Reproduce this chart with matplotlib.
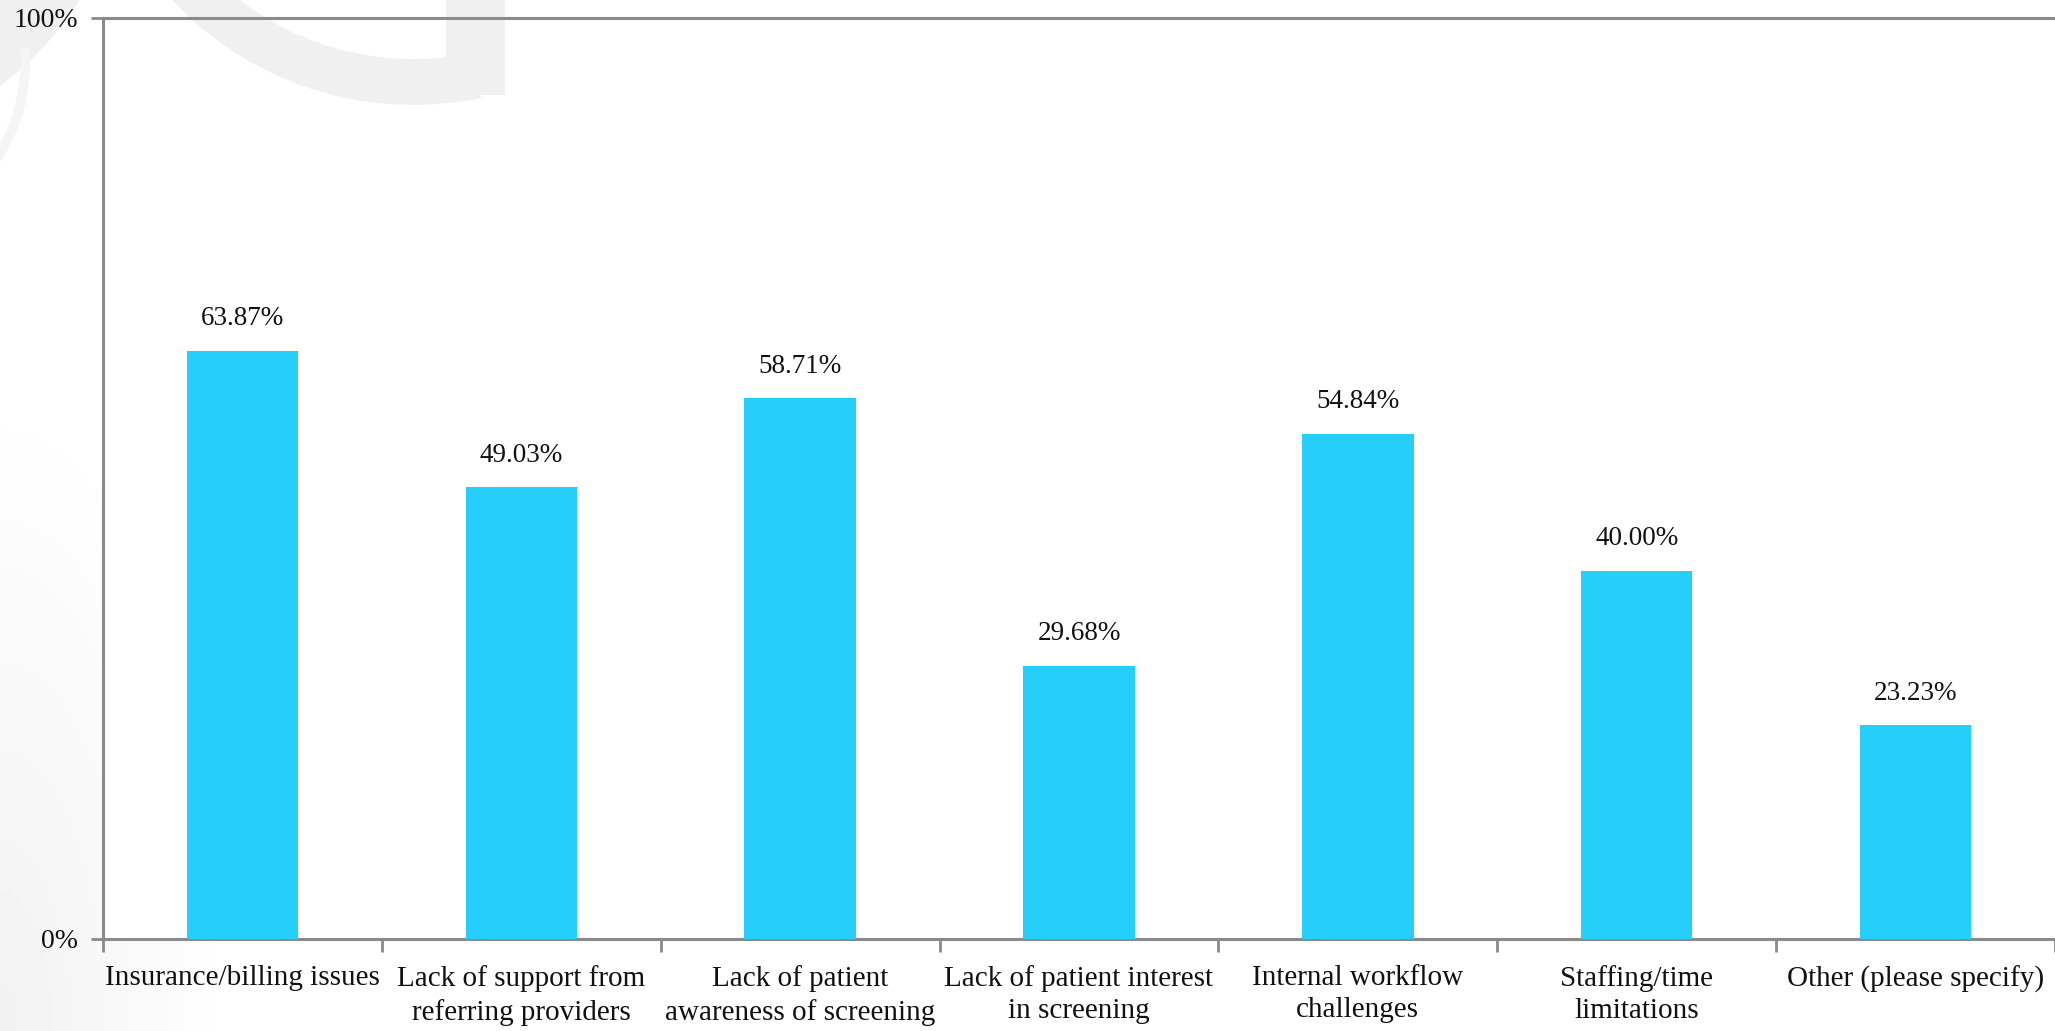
import numpy as np
import matplotlib
matplotlib.use("Agg")
import matplotlib.pyplot as plt
from matplotlib.patches import Arc, Rectangle

# datos
CATEGORIES = [
    "Insurance/billing issues",
    "Lack of support from\nreferring providers",
    "Lack of patient\nawareness of screening",
    "Lack of patient interest\nin screening",
    "Internal workflow\nchallenges",
    "Staffing/time\nlimitations",
    "Other (please specify)",
]
VALUES = [63.87, 49.03, 58.71, 29.68, 54.84, 40.00, 23.23]
Y_TICKS = [0, 100]
Y_TICK_LABELS = ["0%", "100%"]

BAR_COLOR = "#25CFFA"
AXIS_COLOR = "#8a8a8a"
WM_COLOR = "#f0f0f0"
FONT = ["Liberation Serif", "DejaVu Serif"]

plt.rcParams["font.family"] = FONT

W, H = 2055, 1031
AX_LEFT, AX_TOP, AX_BOTTOM = 103, 18, 939  # px

fig = plt.figure(figsize=(W / 100, H / 100), dpi=100)

# fondo: degradado suave abajo a la izquierda (fuera del area) + marca de agua gris
bg = fig.add_axes([0, 0, 1, 1], zorder=-2)
yy, xx = np.mgrid[0:H:4, 0:W:4]
d = np.sqrt((xx / 230.0) ** 2 + ((H - yy) / 650.0) ** 2)
shade = 1.0 - 0.055 * np.clip(1.0 - d, 0, 1)
shade[(xx > AX_LEFT) & (yy < AX_BOTTOM)] = 1.0
bg.imshow(shade, cmap="gray", vmin=0, vmax=1, extent=[0, W, H, 0],
          origin="upper", aspect="auto")
bg.set_xlim(0, W)
bg.set_ylim(H, 0)
bg.add_patch(Arc((413, -224), 612, 612, theta1=78, theta2=180, color=WM_COLOR, lw=33))
bg.add_patch(Rectangle((446, -5), 59, 100, color=WM_COLOR, lw=0))
bg.add_patch(Arc((-200, -180), 574, 574, theta1=0, theta2=90, color=WM_COLOR, lw=66))
bg.add_patch(Arc((-150, 63), 350, 350, theta1=-5, theta2=35, color="#f5f5f5", lw=7))
bg.axis("off")

ax = fig.add_axes([AX_LEFT / W, 1 - AX_BOTTOM / H, 1 - AX_LEFT / W, (AX_BOTTOM - AX_TOP) / H])
ax.patch.set_alpha(0.0)

x = np.arange(len(CATEGORIES))
bars = ax.bar(x, VALUES, width=0.4, color=BAR_COLOR, zorder=3)

for b, v in zip(bars, VALUES):
    ax.annotate(f"{v:.2f}%", (b.get_x() + b.get_width() / 2, v),
                xytext=(0, 14), textcoords="offset points",
                ha="center", va="bottom", fontsize=19.5, color="#111111")

ax.set_xlim(-0.5, len(CATEGORIES) - 0.5)
ax.set_ylim(0, 100)

ax.set_xticks(x)
ax.set_xticklabels(CATEGORIES, fontsize=21, color="#111111", linespacing=1.3)
ax.set_xticks(np.arange(len(CATEGORIES) + 1) - 0.5, minor=True)
ax.tick_params(axis="x", which="major", length=0, pad=19)
ax.tick_params(axis="x", which="minor", length=9, width=2, color=AXIS_COLOR, direction="out")

ax.set_yticks(Y_TICKS)
ax.set_yticklabels(Y_TICK_LABELS, fontsize=20, color="#111111")
ax.tick_params(axis="y", length=9, width=2, color=AXIS_COLOR, pad=9)

for side in ["left", "bottom", "top"]:
    ax.spines[side].set_color(AXIS_COLOR)
    ax.spines[side].set_linewidth(2.2)
ax.spines["right"].set_visible(False)

fig.savefig("out.png", dpi=100)
